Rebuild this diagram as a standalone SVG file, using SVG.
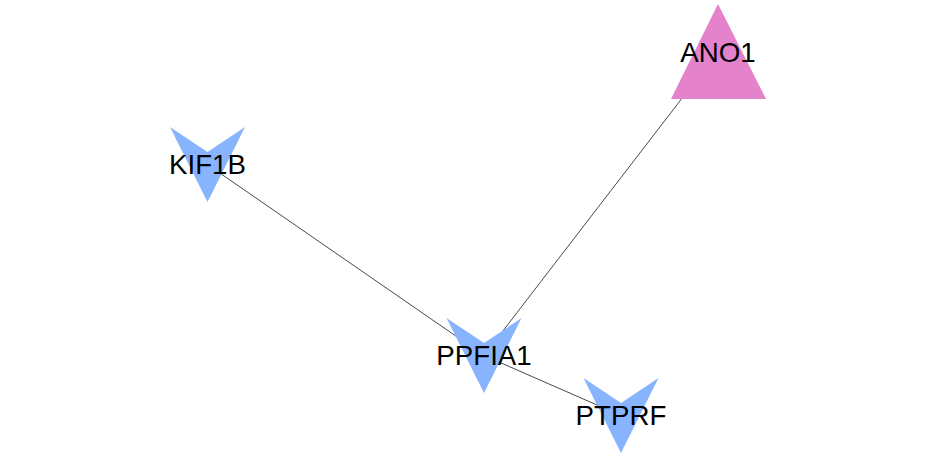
<svg xmlns="http://www.w3.org/2000/svg" width="936" height="458" viewBox="0 0 936 458">
<style>
.edge{stroke:#1a1a1a;stroke-width:0.8;fill:none}
.vee{fill:#88B4FF}
.tri{fill:#E483CC}
.lbl{font-family:"Liberation Sans",Arial,sans-serif;font-size:27.7px;fill:#000;text-anchor:middle}
</style>
<defs>
<polygon id="veeShape" class="vee" points="-37.5,-37.5 0,-12.5 37.5,-37.5 0,37.5"/>
</defs>
<rect width="936" height="458" fill="#fff"/>
<g id="edges">
<line class="edge" x1="207.5" y1="164.5" x2="484" y2="355.5"/>
<line class="edge" x1="718" y1="51.5" x2="484" y2="355.5"/>
<line class="edge" x1="484" y1="355.5" x2="621" y2="415.5"/>
</g>
<g id="ANO1">
<polygon class="tri" points="718,4 766,99 671,99"/>
<text class="lbl" x="718" y="61.5">ANO1</text>
</g>
<g id="KIF1B">
<use href="#veeShape" x="207.5" y="164.5"/>
<text class="lbl" x="207.5" y="174">KIF1B</text>
</g>
<g id="PPFIA1">
<use href="#veeShape" x="484" y="355.5"/>
<text class="lbl" x="484" y="365">PPFIA1</text>
</g>
<g id="PTPRF">
<use href="#veeShape" x="621" y="415.5"/>
<text class="lbl" x="621" y="425">PTPRF</text>
</g>
</svg>
